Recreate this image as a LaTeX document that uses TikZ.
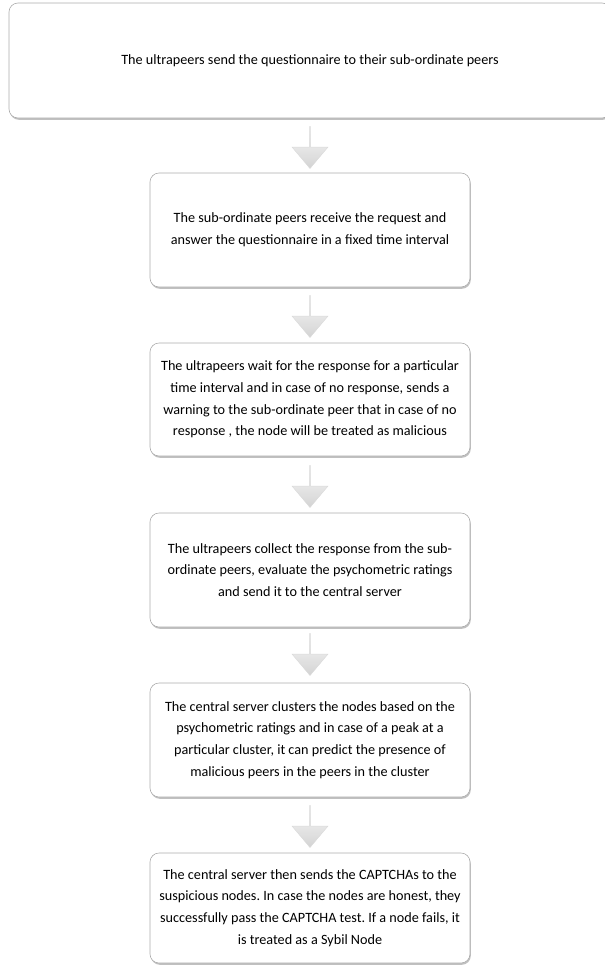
\documentclass[tikz,border=0pt]{standalone}
\usepackage{fontspec}
\setmainfont{Carlito}
\usepackage{tikz}
\usetikzlibrary{shapes,shadows,positioning}
\frenchspacing
\tikzstyle{stepbox}=[rectangle, rounded corners=9pt, draw=gray!65, fill=white, line width=0.6pt,
  minimum width=320pt, minimum height=114pt, align=center, inner sep=0pt,
  font=\fontsize{14.2}{21.7}\selectfont,
  drop shadow={shadow xshift=0.8pt, shadow yshift=-1.8pt, opacity=0.55, fill=gray!90}]
\tikzstyle{downarr}=[single arrow, shape border rotate=270, minimum height=42pt, minimum width=36pt,
  single arrow head extend=5pt, single arrow tip angle=80, inner sep=0pt,
  top color=gray!3, bottom color=gray!35, draw=gray!30, line width=0.4pt]

\begin{document}
\begin{tikzpicture}[x=1pt,y=1pt]
          \useasboundingbox (0,0) rectangle (605,-967);
          \clip (0,0) rectangle (605,-967);
          % 
          \node at (310,-60.5) [stepbox, minimum width=602pt, minimum height=115pt] (s1)
                {The ultrapeers send the questionnaire to their sub-ordinate peers};
          \node at (310,-230) [stepbox] (s2)
                {The sub-ordinate peers receive the request and\\
                 answer the questionnaire in a fixed time interval};
          \node at (310,-399.5) [stepbox, minimum height=113pt] (s3)
                {The ultrapeers wait for the response for a particular\\
                 time interval and in case of no response, sends a\\
                 warning to the sub-ordinate peer that in case of no\\
                 response , the node will be treated as malicious};
          \node at (310,-570) [stepbox] (s4)
                {The ultrapeers collect the response from the sub-\\
                 ordinate peers, evaluate the psychometric ratings\\
                 and send it to the central server};
          \node at (310,-740) [stepbox] (s5)
                {The central server clusters the nodes based on the\\
                 psychometric ratings and in case of a peak at a\\
                 particular cluster, it can predict the presence of\\
                 malicious peers in the peers in the cluster};
          \node at (310,-908) [stepbox, minimum height=110pt] (s6)
                {The central server then sends the CAPTCHAs to the\\
                 suspicious nodes. In case the nodes are honest, they\\
                 successfully pass the CAPTCHA test. If a node fails, it\\
                 is treated as a Sybil Node};
          % 
          \node [downarr, below=8pt of s1] (a1) {};
          \node [downarr, below=8pt of s2] (a2) {};
          \node [downarr, below=9pt of s3] (a3) {};
          \node [downarr, below=6pt of s4] (a4) {};
          \node [downarr, below=8pt of s5] (a5) {};
          % 
        \end{tikzpicture}
\end{document}
